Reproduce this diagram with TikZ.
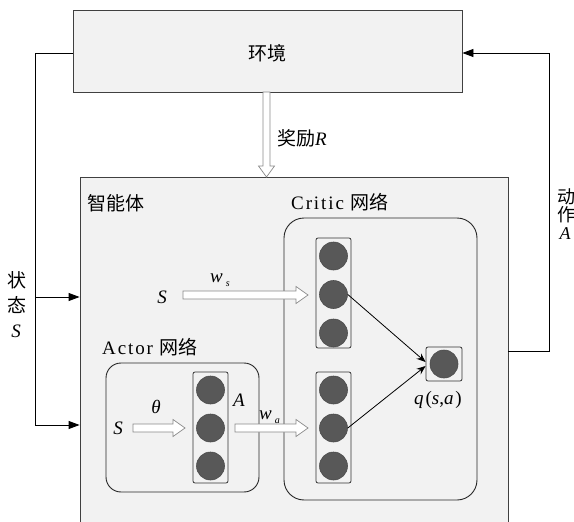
\documentclass[tikz,border=0pt]{standalone}
\usepackage{fontspec}
\setmainfont{Liberation Serif}[LetterSpace=10]
\newfontfamily\cjk{Noto Sans CJK SC}
\usetikzlibrary{arrows.meta,calc}
\definecolor{boxfill}{HTML}{F2F2F2}
\definecolor{boxline}{HTML}{404040}
\definecolor{neur}{HTML}{585858}
\definecolor{hline}{HTML}{8A8A8A}
\tikzset{
  bigbox/.style={draw=boxline, fill=boxfill, line width=0.9pt, inner sep=0pt},
  roundbox/.style={draw=black!85, fill=boxfill, line width=0.9pt, rounded corners=15pt, inner sep=0pt},
  colbox/.style={draw=black!80, fill=boxfill, line width=0.8pt, rounded corners=2pt, inner sep=0pt},
  neuron/.style={circle, draw=black!70, fill=neur, minimum size=28pt, inner sep=0pt, line width=0.6pt},
  lbl/.style={inner sep=0pt, font=\fontsize{19}{21}\selectfont},
  feed/.style={draw=black, line width=0.9pt},
  fdarrow/.style={feed, -{Triangle[length=11pt,width=8pt]}},
  conn/.style={draw=black, line width=0.8pt, -{Stealth[length=9pt,width=7pt]}},
  harrow/.style={draw=hline, fill=white, line width=0.7pt, line join=miter},
}
\newcommand\hollowright[3]{% x1 x2 y
  \draw[harrow] (#1,#3-4) -- (#2-12,#3-4) -- (#2-12,#3-8.5) -- (#2,#3) -- (#2-12,#3+8.5) -- (#2-12,#3+4) -- (#1,#3+4) -- cycle;}
\begin{document}
\begin{tikzpicture}[x=1pt,y=-1pt]
\clip (0,0) rectangle (574,522);
% environment
\node[bigbox, minimum width=389pt, minimum height=82pt] (env) at (267.5,51) {};
\node[lbl] (envl) at (267.5,53) {\cjk 环境};
% agent
\node[bigbox, minimum width=428pt, minimum height=360pt] (agent) at (294,357) {};
\node[lbl, anchor=west] (agentl) at (87,203) {\cjk 智能体};
% reward hollow arrow (downwards)
\draw[harrow] (263,92) -- (270,92) -- (270,166) -- (274.5,166) -- (266.5,177) -- (258.5,166) -- (263,166) -- cycle;
\node[lbl, anchor=west] (rew) at (277,138) {{\cjk 奖励}\textit{R}};
% critic
\node[roundbox, rounded corners=20pt, minimum width=193pt, minimum height=282pt] (critic) at (380.5,359) {};
\node[lbl, anchor=west] (criticl) at (291,202) {Critic {\cjk 网络}};
\node[colbox, minimum width=35pt, minimum height=110pt] (cu) at (333.5,293) {};
\node[neuron] (cu1) at (333.5,256) {};
\node[neuron] (cu2) at (333.5,294.5) {};
\node[neuron] (cu3) at (333.5,333) {};
\node[colbox, minimum width=35pt, minimum height=111pt] (cl) at (333.5,427.5) {};
\node[neuron] (cl1) at (333.5,390) {};
\node[neuron] (cl2) at (333.5,428) {};
\node[neuron] (cl3) at (333.5,466) {};
\node[colbox, minimum width=36pt, minimum height=34pt] (qb) at (444,364) {};
\node[neuron] (q) at (444,364) {};
\node[lbl] (ql) at (438,400) {\textit{q}(\textit{s},\textit{a})};
\draw[conn] (cu2.east) -- ($(qb.west)+(0,-2)$);
\draw[conn] (cl2.east) -- ($(qb.west)+(0,2)$);
% actor
\node[roundbox, minimum width=153pt, minimum height=129pt] (actor) at (182.5,427.5) {};
\node[lbl, anchor=west] (actorl) at (102,347) {Actor {\cjk 网络}};
\node[colbox, minimum width=35pt, minimum height=111pt] (ac) at (210.5,427.5) {};
\node[neuron] (a1) at (210.5,390) {};
\node[neuron] (a2) at (210.5,428) {};
\node[neuron] (a3) at (210.5,466) {};
\node[lbl] (sa) at (119,428) {\textit{S}};
\node[lbl] (th) at (157,407) {\textit{θ}};
\hollowright{133}{185}{428}
\node[lbl] (al) at (240,400) {\textit{A}};
\hollowright{235}{308}{428}
\node[lbl, anchor=base west] (wa) at (259,419) {\textit{w}\kern1pt\raisebox{-4pt}{\fontsize{10}{10}\selectfont\textit{a}}};
% upper S
\node[lbl] (su) at (163,297) {\textit{S}};
\hollowright{183}{308}{295}
\node[lbl, anchor=base west] (ws) at (210,282) {\textit{w}\kern1pt\raisebox{-4pt}{\fontsize{10}{10}\selectfont\textit{s}}};
% feedback: state
\coordinate (lt) at (35,53);
\coordinate (lb) at (35,425);
\draw[feed] (env.west |- lt) -- (lt) -- (lb);
\draw[fdarrow] (35,297) -- (agent.west |- 0,297);
\draw[fdarrow] (lb) -- (agent.west |- lb);
\node[lbl, align=center, font=\fontsize{19}{25}\selectfont] (state) at (17,305) {{\cjk 状}\\{\cjk 态}\\\textit{S}};
% feedback: action
\coordinate (rb) at (549,351);
\coordinate (rt) at (549,53);
\draw[feed] (agent.east |- rb) -- (rb) -- (rt);
\draw[fdarrow] (rt) -- (env.east |- rt);
\node[lbl, align=center, font=\fontsize{18}{18}\selectfont] (act) at (566,214) {{\cjk 动}\\{\cjk 作}\\\textit{A}};
\end{tikzpicture}
\end{document}
